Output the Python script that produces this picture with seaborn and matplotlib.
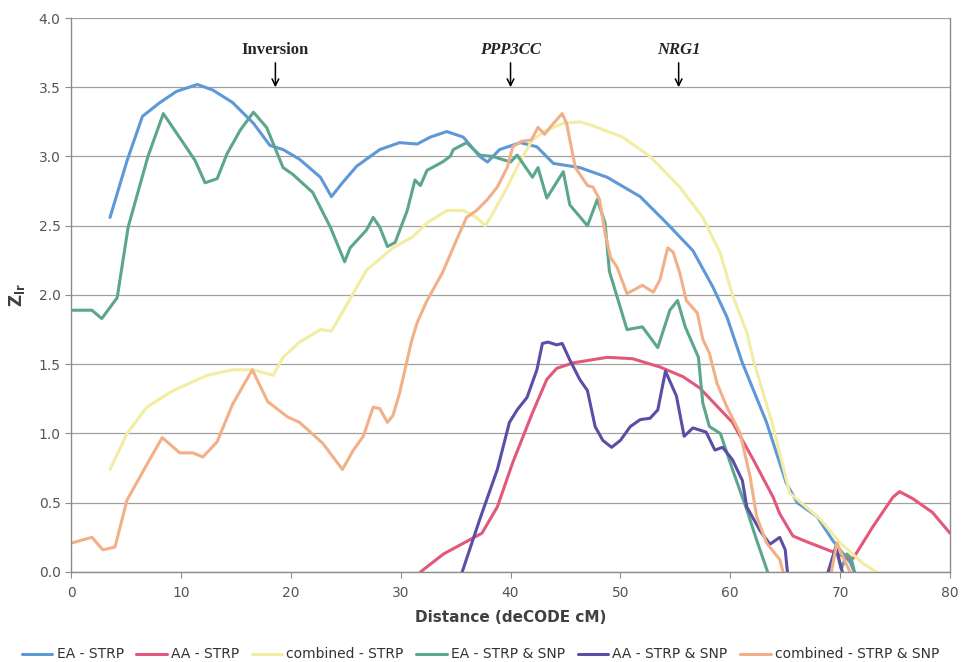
import numpy as np
import pandas as pd
import matplotlib
matplotlib.use("Agg")
import matplotlib.pyplot as plt
import seaborn as sns

# values
ea_strp_x = [3.55, 5.1, 6.5, 8.1, 9.6, 11.5, 12.9, 14.7, 16.6, 18.1, 19.3, 20.8, 22.7, 23.7, 24.7, 26.0, 28.1,
             29.9, 31.5, 32.7, 34.2, 35.7, 37.2, 37.9, 39.0, 40.9, 42.4, 43.9, 46.3, 48.8, 51.8, 54.2, 56.6,
             58.4, 59.7, 61.1, 63.3, 65.1, 66.1, 67.9, 69.3, 70.9, 71.3]
ea_strp_y = [2.56, 2.97, 3.29, 3.39, 3.47, 3.52, 3.48, 3.39, 3.24, 3.08, 3.05, 2.98, 2.85, 2.71, 2.81, 2.93, 3.05,
             3.10, 3.09, 3.14, 3.18, 3.14, 3.00, 2.96, 3.05, 3.10, 3.07, 2.95, 2.92, 2.85, 2.71, 2.52, 2.32,
             2.06, 1.84, 1.51, 1.08, 0.64, 0.50, 0.40, 0.23, 0.07, 0.0]

aa_strp_x = [31.8, 33.9, 36.0, 37.4, 38.8, 40.2, 42.0, 43.3, 44.2, 45.7, 48.8, 51.1, 53.6, 55.7, 57.2, 60.2,
             62.1, 63.9, 64.5, 65.7, 66.9, 69.5, 70.9, 71.2, 73.0, 74.8, 75.4, 76.6, 78.4, 80.0]
aa_strp_y = [0.0, 0.13, 0.22, 0.28, 0.47, 0.79, 1.15, 1.39, 1.47, 1.51, 1.55, 1.54, 1.48, 1.41, 1.33, 1.08,
             0.81, 0.54, 0.42, 0.26, 0.22, 0.14, 0.09, 0.10, 0.33, 0.54, 0.58, 0.53, 0.43, 0.28]

comb_strp_x = [3.55, 5.1, 6.9, 9.3, 12.4, 14.7, 16.6, 18.4, 19.3, 20.8, 22.7, 23.7, 25.1, 26.9, 29.3, 31.1,
               32.4, 34.2, 35.7, 36.9, 37.7, 38.4, 39.7, 40.9, 42.0, 43.3, 44.8, 46.3, 47.2, 50.2, 52.7, 55.4,
               57.5, 59.1, 60.2, 61.5, 62.1, 63.9, 65.4, 66.3, 68.2, 70.0, 72.1, 73.3]
comb_strp_y = [0.74, 1.0, 1.19, 1.31, 1.42, 1.46, 1.46, 1.42, 1.55, 1.66, 1.75, 1.74, 1.93, 2.18, 2.34, 2.42,
               2.52, 2.61, 2.61, 2.56, 2.50, 2.59, 2.78, 2.97, 3.12, 3.19, 3.24, 3.25, 3.23, 3.14, 3.00, 2.78,
               2.56, 2.30, 2.00, 1.73, 1.53, 1.05, 0.57, 0.51, 0.38, 0.21, 0.06, 0.0]

ea_snp_x = [0, 1.9, 2.8, 4.2, 5.2, 7.0, 8.4, 9.0, 10.2, 11.3, 12.2, 13.3, 14.2, 15.4, 16.6, 17.8, 19.3, 20.2,
            22.0, 23.6, 24.9, 25.4, 26.9, 27.5, 28.1, 28.8, 29.5, 30.6, 31.3, 31.8, 32.4, 33.8, 34.5, 34.8,
            36.0, 37.2, 38.4, 40.0, 40.6, 42.0, 42.5, 43.3, 44.8, 45.4, 47.0, 47.9, 48.6, 49.0, 50.6, 52.0,
            53.4, 54.5, 55.2, 55.9, 57.1, 57.5, 58.1, 59.1, 60.2, 61.5, 62.4, 63.4]
ea_snp_y = [1.89, 1.89, 1.83, 1.98, 2.49, 3.0, 3.31, 3.24, 3.10, 2.97, 2.81, 2.84, 3.02, 3.19, 3.32, 3.21, 2.92,
            2.87, 2.74, 2.49, 2.24, 2.34, 2.47, 2.56, 2.49, 2.35, 2.38, 2.61, 2.83, 2.79, 2.90, 2.96, 3.0, 3.05,
            3.10, 3.01, 3.0, 2.96, 3.01, 2.85, 2.92, 2.70, 2.89, 2.65, 2.50, 2.69, 2.52, 2.17, 1.75, 1.77,
            1.62, 1.89, 1.96, 1.77, 1.55, 1.22, 1.05, 1.0, 0.74, 0.45, 0.23, 0.0]
ea_snp_x2 = [69.1, 69.6, 70.1, 70.6, 71.0, 71.3]
ea_snp_y2 = [0.0, 0.18, 0.02, 0.13, 0.10, 0.0]

aa_snp_x = [35.6, 37.2, 38.8, 39.9, 40.6, 41.5, 42.4, 42.9, 43.4, 44.2, 44.7, 45.4, 46.3, 47.0, 47.7, 48.4,
            49.2, 50.0, 50.9, 51.8, 52.7, 53.4, 54.1, 55.1, 55.8, 56.6, 57.8, 58.6, 59.3, 60.2, 61.1, 61.5,
            62.7, 63.6, 64.5, 65.0, 65.2]
aa_snp_y = [0.0, 0.38, 0.74, 1.08, 1.17, 1.26, 1.46, 1.65, 1.66, 1.64, 1.65, 1.53, 1.39, 1.31, 1.05, 0.95,
            0.90, 0.95, 1.05, 1.10, 1.11, 1.17, 1.45, 1.27, 0.98, 1.04, 1.01, 0.88, 0.90, 0.81, 0.66, 0.47,
            0.30, 0.20, 0.25, 0.16, 0.0]
aa_snp_x2 = [68.9, 69.6, 70.2]
aa_snp_y2 = [0.0, 0.18, 0.0]

comb_snp_x = [0.1, 1.9, 2.9, 4.0, 5.1, 7.0, 8.3, 9.9, 11.1, 12.0, 13.3, 14.7, 16.5, 17.9, 19.7, 20.8, 22.9,
              24.7, 25.7, 26.6, 27.5, 28.1, 28.8, 29.3, 29.9, 31.0, 31.5, 32.4, 33.8, 35.1, 36.0, 36.9, 37.9,
              38.8, 39.7, 40.2, 41.0, 41.9, 42.5, 43.1, 43.8, 44.7, 45.1, 45.9, 47.0, 47.5, 48.1, 48.6, 49.1,
              49.7, 50.6, 52.0, 53.0, 53.6, 54.3, 54.8, 55.4, 56.0, 57.0, 57.5, 58.1, 58.8, 59.7, 60.9, 61.8,
              62.4, 63.3, 64.5, 64.8]
comb_snp_y = [0.21, 0.25, 0.16, 0.18, 0.52, 0.79, 0.97, 0.86, 0.86, 0.83, 0.94, 1.21, 1.46, 1.23, 1.12, 1.08,
              0.93, 0.74, 0.88, 0.98, 1.19, 1.18, 1.08, 1.13, 1.29, 1.67, 1.80, 1.96, 2.16, 2.40, 2.56, 2.61,
              2.69, 2.78, 2.92, 3.07, 3.11, 3.12, 3.21, 3.16, 3.23, 3.31, 3.24, 2.92, 2.79, 2.78, 2.69, 2.45,
              2.27, 2.20, 2.01, 2.07, 2.02, 2.11, 2.34, 2.31, 2.16, 1.96, 1.87, 1.68, 1.58, 1.36, 1.19, 1.0,
              0.69, 0.40, 0.21, 0.09, 0.0]
comb_snp_x2 = [69.2, 69.7, 70.3, 70.9]
comb_snp_y2 = [0.0, 0.21, 0.10, 0.0]

markers = ["Inversion", "PPP3CC", "NRG1"]
marker_pos = [18.6, 40.0, 55.3]

sns.set_style("white")
plt.rcParams['font.family'] = ['DejaVu Sans']

fig = plt.figure(figsize=(9.61, 6.62), dpi=100)
ax = fig.add_axes([0.0739, 0.136, 0.9147, 0.8368])

series = [
    ("EA - STRP", "#5f98d6", [(ea_strp_x, ea_strp_y)]),
    ("AA - STRP", "#e2587a", [(aa_strp_x, aa_strp_y)]),
    ("combined - STRP", "#f3eda4", [(comb_strp_x, comb_strp_y)]),
    ("EA - STRP & SNP", "#5ba68c", [(ea_snp_x, ea_snp_y), (ea_snp_x2, ea_snp_y2)]),
    ("AA - STRP & SNP", "#5a4ea6", [(aa_snp_x, aa_snp_y), (aa_snp_x2, aa_snp_y2)]),
    ("combined - STRP & SNP", "#f2b088", [(comb_snp_x, comb_snp_y), (comb_snp_x2, comb_snp_y2)]),
]

for name, col, segs in series:
    for i, (xs, ys) in enumerate(segs):
        df = pd.DataFrame({"x": xs, "y": ys})
        sns.lineplot(data=df, x="x", y="y", ax=ax, color=col, linewidth=2.2, sort=False,
                     label=name if i == 0 else None, legend=False)

ax.set_xlim(0, 80)
ax.set_ylim(0, 4.0)
ax.set_xticks(np.arange(0, 81, 10))
ax.set_yticks(np.arange(0, 4.01, 0.5))
ax.set_yticklabels([f"{v:.1f}" for v in np.arange(0, 4.01, 0.5)])
ax.yaxis.grid(True, color="#a0a0a0", linewidth=0.9)
ax.set_axisbelow(True)
for s in ["left", "bottom", "right"]:
    ax.spines[s].set_color("#8c8c8c")
    ax.spines[s].set_linewidth(1.0)
ax.spines["top"].set_visible(False)
ax.tick_params(axis="both", direction="out", length=4, color="#8c8c8c", labelsize=10,
               labelcolor="#555555", left=True, bottom=True)
ax.tick_params(axis="x", pad=6)
ax.set_xlabel("Distance (deCODE cM)", fontsize=11, fontweight="bold", color="#404040", labelpad=7)
ax.set_ylabel(r"$\mathbf{Z_{lr}}$", fontsize=12, color="#404040", labelpad=8)

for i, (lab, xp) in enumerate(zip(markers, marker_pos)):
    style = "normal" if i == 0 else "italic"
    ax.annotate(lab, xy=(xp, 3.5), xytext=(xp, 3.71), ha="center", va="bottom",
                fontsize=12, fontweight="bold", fontstyle=style, family="Liberation Serif",
                arrowprops=dict(arrowstyle="->", color="black", lw=1.1, shrinkA=1, shrinkB=0))

handles, labels = ax.get_legend_handles_labels()
fig.legend(handles, labels, loc="lower center", ncol=6, frameon=False, fontsize=10,
           bbox_to_anchor=(0.5, -0.018), handlelength=2.2, columnspacing=0.9, handletextpad=0.3,
           labelcolor="#333333")

fig.savefig("out.png", dpi=100)
